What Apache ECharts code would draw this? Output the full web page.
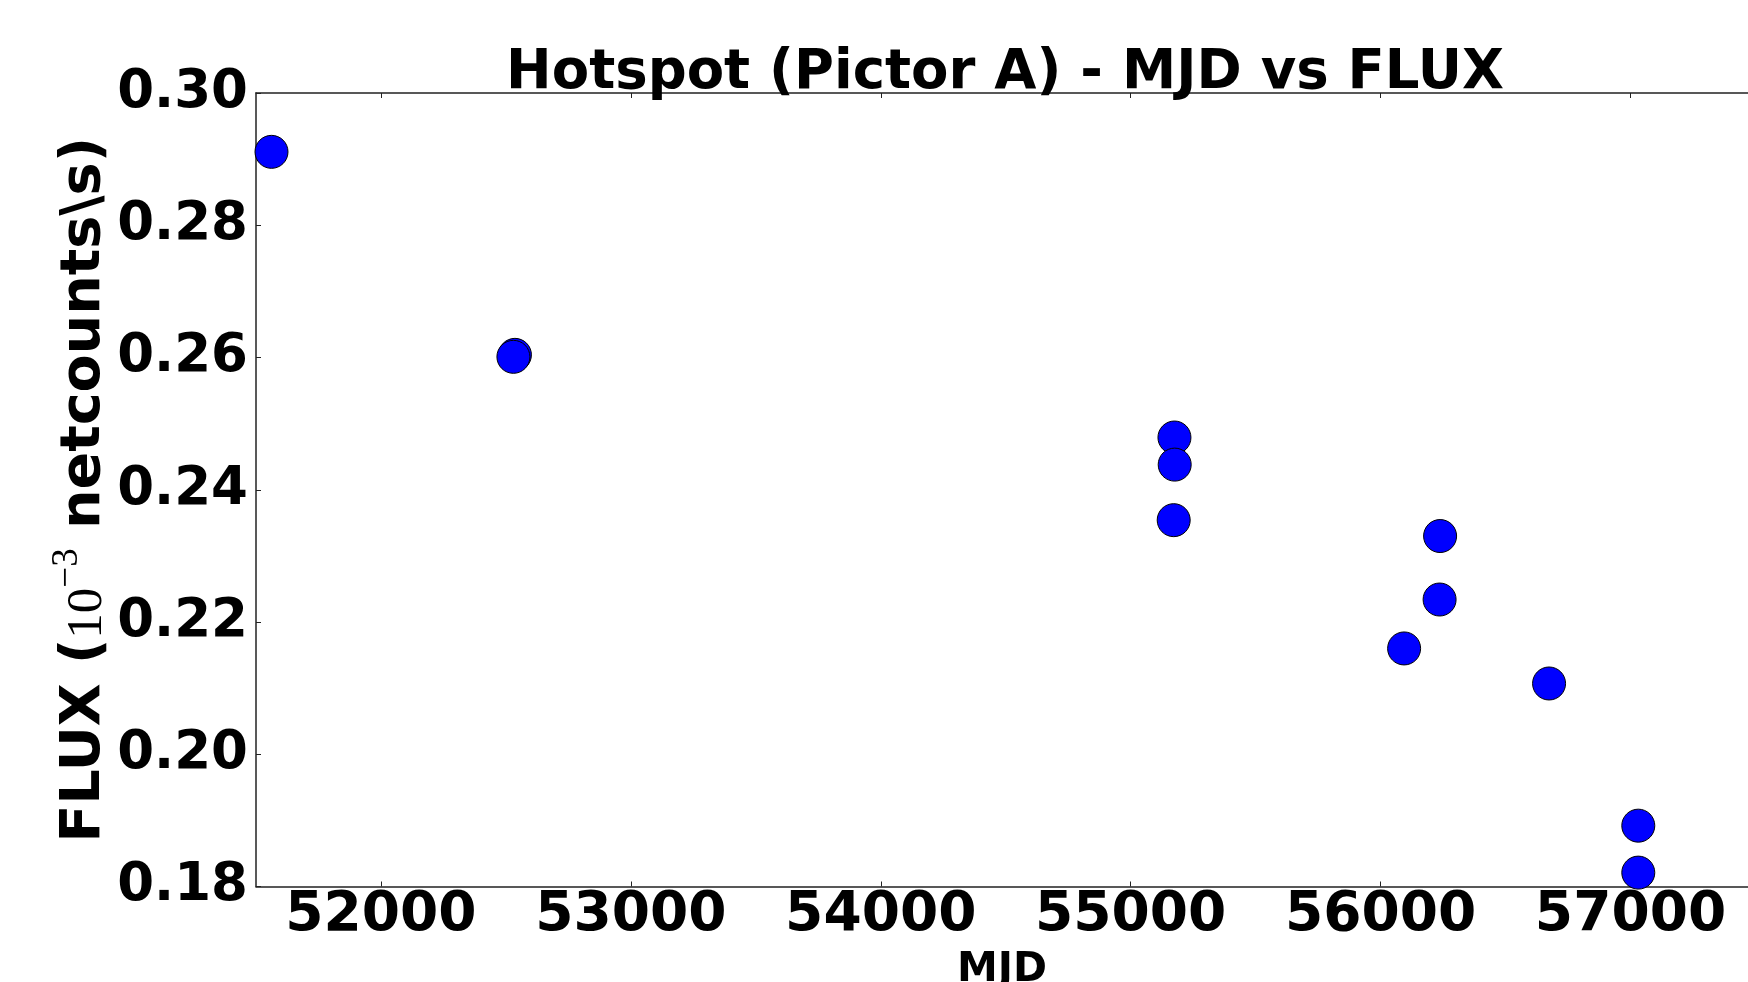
<!DOCTYPE html>
<html>
<head>
<meta charset="utf-8">
<script src="https://cdn.jsdelivr.net/npm/echarts@6/dist/echarts.min.js"></script>
<style>
  html, body { margin: 0; padding: 0; background: #fff; }
  #scatterChart { width: 1748px; height: 982px; }
</style>
</head>
<body>
<div id="scatterChart"></div>
<script>
let mjd = [51562, 52536, 52530, 55175, 55176, 55172, 56238, 56236, 56094, 56674, 57031, 57031]
let flux = [0.2911, 0.2604, 0.2601, 0.2479, 0.2438, 0.2354, 0.2330, 0.2234, 0.2160, 0.2107, 0.1892, 0.1821]
let xTicks = [52000, 53000, 54000, 55000, 56000, 57000]
let yTicks = [0.18, 0.20, 0.22, 0.24, 0.26, 0.28, 0.30]

let points = mjd.map((x, i) => [x, flux[i]])
let font = 'DejaVu Sans'
let lineColor = '#222'

let myChart = echarts.init(document.getElementById('scatterChart'))
let options = {
  animation: false,
  title: {
    text: 'Hotspot (Pictor A) - MJD vs FLUX',
    left: 1000,
    top: 41,
    textAlign: 'center',
    textStyle: {
      fontFamily: font,
      fontWeight: 'bold',
      fontSize: 54.5,
      color: '#000'
    }
  },
  grid: {
    left: 256,
    right: 0,
    top: 93,
    bottom: 95.5,
    outerBoundsMode: 'none',
    containLabel: false
  },
  xAxis: [
    {
      type: 'value',
      min: 51500,
      max: 57470,
      name: 'MJD',
      nameLocation: 'middle',
      nameGap: 63,
      nameTextStyle: { fontFamily: font, fontWeight: 'bold', fontSize: 41, color: '#000' },
      axisLine: { show: true, lineStyle: { color: lineColor, width: 1.5 } },
      axisTick: { show: true, inside: true, length: 5, customValues: xTicks, lineStyle: { color: lineColor } },
      axisLabel: {
        customValues: xTicks,
        margin: 2,
        fontFamily: font,
        fontWeight: 'bold',
        fontSize: 55,
        color: '#000',
        formatter: v => String(v)
      },
      splitLine: { show: false }
    },
    {
      type: 'value',
      position: 'top',
      min: 51500,
      max: 57470,
      axisLine: { show: true, onZero: false, lineStyle: { color: lineColor, width: 1.5 } },
      axisTick: { show: true, inside: true, length: 5, customValues: xTicks, lineStyle: { color: lineColor } },
      axisLabel: { show: false },
      splitLine: { show: false }
    }
  ],
  yAxis: {
    type: 'value',
    min: 0.18,
    max: 0.30,
    interval: 0.02,
    name: '{b|FLUX (}{m|10}{s|−3}{b| netcounts\\s)}',
    nameLocation: 'middle',
    nameGap: 143,
    nameMoveOverlap: false,
    nameTextStyle: {
      color: '#000',
      rich: {
        b: { fontFamily: font, fontWeight: 'bold', fontSize: 55.5, lineHeight: 64, verticalAlign: 'bottom', color: '#000' },
        m: { fontFamily: 'Liberation Serif', fontSize: 51, lineHeight: 64, verticalAlign: 'bottom', color: '#000' },
        s: { fontFamily: 'Liberation Serif', fontSize: 37, lineHeight: 64, verticalAlign: 'top', color: '#000' }
      }
    },
    axisLine: { show: true, lineStyle: { color: lineColor, width: 1.5 } },
    axisTick: { show: true, inside: true, length: 5, lineStyle: { color: lineColor } },
    axisLabel: {
      margin: 8,
      fontFamily: font,
      fontWeight: 'bold',
      fontSize: 53,
      color: '#000',
      formatter: v => v.toFixed(2)
    },
    splitLine: { show: false }
  },
  series: [
    {
      name: 'Hotspot',
      type: 'scatter',
      data: points,
      symbol: 'circle',
      symbolSize: 33,
      itemStyle: {
        color: '#0000ff',
        opacity: 1,
        borderColor: '#000',
        borderWidth: 1
      }
    }
  ]
}
myChart.setOption(options)
</script>
</body>
</html>
